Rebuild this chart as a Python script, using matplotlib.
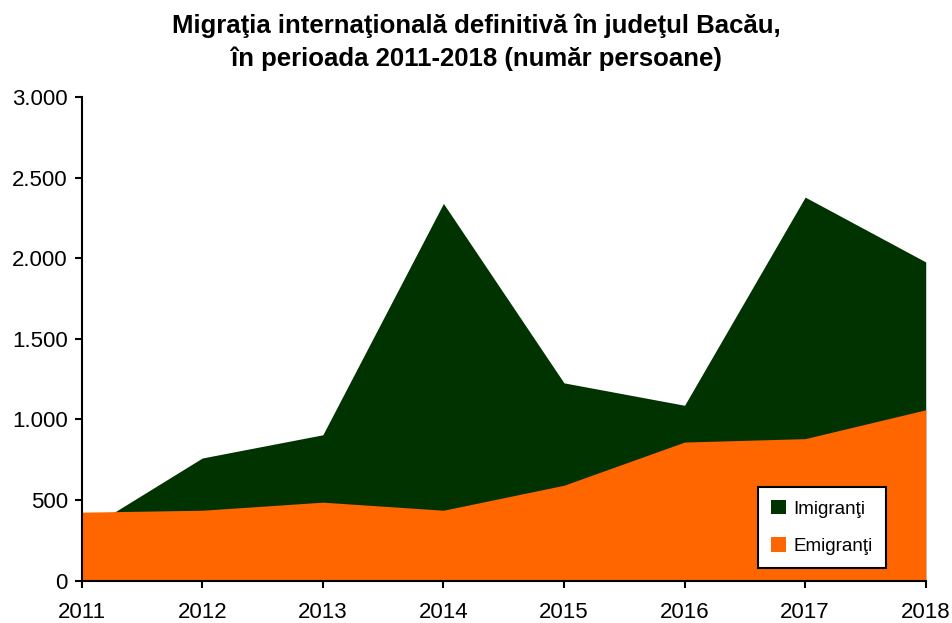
import matplotlib
matplotlib.use("Agg")
import matplotlib.pyplot as plt
from matplotlib.ticker import FuncFormatter

years = [2011, 2012, 2013, 2014, 2015, 2016, 2017, 2018]
imigranti = [300, 761, 905, 2340, 1227, 1088, 2379, 1977]
emigranti = [425, 437, 487, 437, 592, 860, 881, 1060]

plt.rcParams['font.family'] = ['Liberation Sans', 'DejaVu Sans']

fig = plt.figure(figsize=(9.52, 6.23), dpi=100)
ax = fig.add_axes([0.0858, 0.0679, 0.9724 - 0.0858, 0.8443 - 0.0679])

ax.fill_between(years, imigranti, 0, color='#003300', linewidth=0, label='Imigranţi')
ax.fill_between(years, emigranti, 0, color='#FF6600', linewidth=0, label='Emigranţi')

ax.set_xlim(2011, 2018)
ax.set_ylim(0, 3000)
ax.set_xticks(years)
ax.set_yticks(range(0, 3001, 500))
ax.yaxis.set_major_formatter(FuncFormatter(lambda v, p: f"{int(v):,}".replace(",", ".")))
for s in ['top', 'right']:
    ax.spines[s].set_visible(False)
for s in ['left', 'bottom']:
    ax.spines[s].set_linewidth(1.5)
ax.tick_params(axis='y', direction='out', length=5, width=1.5, labelsize=16, pad=5)
ax.tick_params(axis='x', direction='out', length=5, width=1.5, labelsize=16, pad=10)

leg = ax.legend(loc='upper left', bbox_to_anchor=(0.801, 0.194), frameon=True,
                fancybox=False, fontsize=13.5, handlelength=0.8, handleheight=0.8,
                handletextpad=0.4, labelspacing=1.05, borderpad=0.7, borderaxespad=0)
leg.get_frame().set_edgecolor('black')
leg.get_frame().set_linewidth(1.5)
leg.get_frame().set_alpha(1)

fig.text(0.5, 0.978, "Migraţia internaţională definitivă în judeţul Bacău,\nîn perioada 2011-2018 (număr persoane)",
         ha='center', va='top', fontsize=18.5, fontweight='bold', linespacing=1.42)

fig.savefig('out.png', dpi=100)
